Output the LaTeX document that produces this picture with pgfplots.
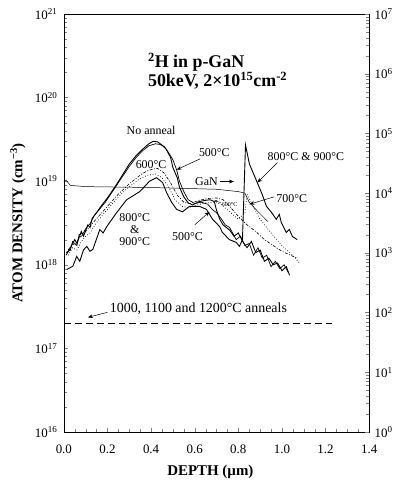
\documentclass[border=0pt]{standalone}
\usepackage{fontspec}
\setmainfont{Liberation Serif}
\usepackage{pgfplots}
\pgfplotsset{compat=1.18}
\usetikzlibrary{arrows.meta}

\pgfplotstableread{
x y
0.01 1.3e18
0.03 1.6e18
0.05 2.0e18
0.06 1.8e18
0.08 2.5e18
0.09 2.2e18
0.11 3.0e18
0.12 2.8e18
0.13 3.6e18
0.15 4.2e18
0.17 5.0e18
0.20 6.3e18
0.24 9.0e18
0.27 1.2e19
0.30 1.6e19
0.33 2.0e19
0.36 2.4e19
0.39 2.8e19
0.41 3.0e19
0.43 2.95e19
0.45 2.7e19
0.47 2.4e19
0.49 1.9e19
0.50 1.45e19
0.52 1.1e19
0.53 8.5e18
0.55 6.5e18
0.57 5.5e18
0.59 5.2e18
0.62 5.7e18
0.65 5.9e18
0.67 6.0e18
0.69 5.7e18
0.70 4.5e18
0.715 3.5e18
0.73 3.0e18
0.76 2.6e18
0.78 2.2e18
0.80 2.4e18
0.82 1.9e18
0.84 1.6e18
0.86 1.9e18
0.88 1.4e18
0.90 1.5e18
0.92 1.1e18
0.94 1.2e18
0.96 1.0e18
0.98 1.05e18
1.00 8.5e17
1.02 9.5e17
1.035 7.5e17
}\noanneal

\pgfplotstableread{
x y
0.01 1.4e18
0.03 1.5e18
0.04 1.9e18
0.06 1.7e18
0.07 2.3e18
0.09 2.4e18
0.10 2.7e18
0.12 3.1e18
0.14 3.9e18
0.16 4.5e18
0.19 5.6e18
0.23 8.0e18
0.27 1.15e19
0.30 1.5e19
0.33 1.9e19
0.36 2.3e19
0.39 2.65e19
0.42 2.8e19
0.44 2.75e19
0.46 2.6e19
0.48 2.2e19
0.50 1.8e19
0.517 1.37e19
0.53 1.0e19
0.55 7.5e18
0.57 6.0e18
0.60 5.4e18
0.63 5.6e18
0.66 5.3e18
0.68 4.6e18
0.70 4.2e18
0.72 3.6e18
0.74 3.0e18
0.76 2.8e18
0.79 2.0e18
0.81 2.2e18
0.83 1.7e18
0.85 1.8e18
0.87 1.3e18
0.89 1.6e18
0.91 1.2e18
0.93 1.3e18
0.95 0.95e18
0.97 1.1e18
0.99 0.9e18
1.01 1.0e18
1.03 0.8e18
}\fivehundred

\pgfplotstableread{
x y
0.02 1.5e18
0.04 1.8e18
0.05 1.7e18
0.07 2.1e18
0.09 2.3e18
0.10 2.5e18
0.13 3.1e18
0.16 3.8e18
0.20 5.0e18
0.25 7.0e18
0.30 9.3e18
0.35 1.18e19
0.38 1.32e19
0.41 1.4e19
0.43 1.42e19
0.46 1.25e19
0.49 9.5e18
0.52 6.8e18
0.55 5.6e18
0.58 5.4e18
0.62 5.9e18
0.66 6.2e18
0.70 6.3e18
0.73 6.0e18
0.76 5.0e18
0.80 3.8e18
0.84 3.0e18
0.88 2.5e18
0.92 2.0e18
0.96 1.7e18
1.00 1.45e18
1.04 1.3e18
1.07 1.2e18
}\sixhundred

\pgfplotstableread{
x y
0.02 1.3e18
0.04 1.6e18
0.06 1.5e18
0.08 1.9e18
0.10 2.2e18
0.12 2.4e18
0.15 3.2e18
0.19 4.3e18
0.24 6.1e18
0.29 8.2e18
0.34 1.03e19
0.38 1.17e19
0.42 1.22e19
0.45 1.1e19
0.48 8.5e18
0.51 6.0e18
0.54 5.0e18
0.57 4.8e18
0.61 5.2e18
0.65 5.5e18
0.69 5.6e18
0.72 5.3e18
0.76 4.3e18
0.80 3.5e18
0.83 4.2e18
0.84 7.0e18
0.86 5.5e18
0.90 3.5e18
0.95 2.4e18
1.00 1.7e18
1.05 1.3e18
1.08 1.05e18
}\sevenhundred

\pgfplotstableread{
x y
0.014 8.8e17
0.041 9.6e17
0.059 1.26e18
0.073 1.1e18
0.09 1.5e18
0.105 1.66e18
0.12 1.45e18
0.133 1.53e18
0.165 2.64e18
0.18 2.4e18
0.197 2.87e18
0.242 4.2e18
0.288 6.0e18
0.348 7.5e18
0.393 1.0e19
0.425 1.1e19
0.453 9.6e18
0.471 7.3e18
0.494 5.6e18
0.517 4.6e18
0.544 4.3e18
0.576 5.0e18
0.622 5.0e18
0.654 4.6e18
0.682 3.5e18
0.714 2.87e18
0.727 2.44e18
0.759 2.0e18
0.791 1.85e18
0.805 1.66e18
0.819 2.0e18
0.833 2.7e19
0.851 1.6e19
0.887 9.6e18
0.910 6.9e18
0.929 5.0e18
0.95 4.3e18
0.974 3.5e18
0.988 4.0e18
0.997 3.2e18
1.020 2.44e18
1.034 2.64e18
1.048 2.18e18
1.070 2.0e18
}\eightnine

\pgfplotstableread{
x y
0.0 9.9e18
0.01 1.03e19
0.03 8.9e18
0.10 8.6e18
0.40 8.4e18
0.70 8.0e18
0.80 7.5e18
0.83 7.2e18
0.85 5.6e18
0.88 4.6e18
0.935 3.3e18
}\gan

\begin{document}
\begin{tikzpicture}
\begin{axis}[
  scale only axis, width=306bp, height=419bp,
  xmin=0, xmax=1.4, ymode=log, ymin=1e16, ymax=1e21,
  xtick={0,0.2,0.4,0.6,0.8,1.0,1.2,1.4},
  xticklabels={0.0,0.2,0.4,0.6,0.8,1.0,1.2,1.4},
  minor x tick num=3,
  ytick={1e16,1e17,1e18,1e19,1e20,1e21},
  yticklabels={10\textsuperscript{16},10\textsuperscript{17},10\textsuperscript{18},10\textsuperscript{19},10\textsuperscript{20},10\textsuperscript{21}},
  xtick pos=bottom, ytick pos=left, tick align=inside,
  tick label style={font=\fontsize{13}{15}\selectfont},
  xticklabel style={yshift=-9bp},
  yticklabel style={xshift=-3bp},
  xlabel={DEPTH (µm)},
  ylabel={ATOM DENSITY (cm\textsuperscript{−3})},
  label style={font=\fontsize{15}{17}\selectfont\bfseries},
  xlabel style={at={([yshift=-40bp]axis description cs:0.48,0)},anchor=center},
  ylabel style={at={([xshift=-46bp]axis description cs:0,0.5)},anchor=center},
]
\addplot[black, line width=0.9pt] table {\noanneal};
\addplot[black, line width=0.7pt] table {\fivehundred};
\addplot[black, line width=0.6pt, dash pattern=on 3pt off 1.5pt on 1pt off 1.5pt] table {\sixhundred};
\addplot[black, line width=0.7pt, dotted] table {\sevenhundred};
\addplot[black, line width=0.9pt] table {\eightnine};
\addplot[black, line width=0.5pt] table {\gan};
\addplot[black, line width=0.6pt, dash pattern=on 7pt off 4pt] coordinates {(0,2e17) (1.23,2e17)};

\node[anchor=west, font=\fontsize{18}{20}\selectfont\bfseries] at (axis cs:0.37,2.67e20) {\textsuperscript{2}H in p-GaN};
\node[anchor=west, font=\fontsize{18}{20}\selectfont\bfseries] at (axis cs:0.37,1.58e20) {50keV, 2×10\textsuperscript{15}cm\textsuperscript{-2}};

\node[font=\fontsize{12}{14}\selectfont] at (axis cs:0.40,4.1e19) {No anneal};
\node[font=\fontsize{12}{14}\selectfont] at (axis cs:0.69,2.2e19) {500°C};
\draw[-{Stealth[length=5pt]}, line width=0.5pt] (axis cs:0.625,1.85e19) -- (axis cs:0.517,1.37e19);
\node[font=\fontsize{12}{14}\selectfont] at (axis cs:0.40,1.58e19) {600°C};
\node[font=\fontsize{12}{14}\selectfont] at (axis cs:0.654,9.9e18) {GaN};
\draw[-{Stealth[length=5pt]}, line width=0.5pt] (axis cs:0.715,9.9e18) -- (axis cs:0.78,9.9e18);
\node[font=\fontsize{12}{14}\selectfont] at (axis cs:1.11,1.97e19) {800°C \& 900°C};
\draw[-{Stealth[length=5pt]}, line width=0.5pt] (axis cs:0.979,1.67e19) -- (axis cs:0.887,9.6e18);
\node[font=\fontsize{12}{14}\selectfont] at (axis cs:1.045,6.2e18) {700°C};
\draw[-{Stealth[length=5pt]}, line width=0.5pt] (axis cs:0.965,6.5e18) -- (axis cs:0.851,5.3e18);
\node[font=\fontsize{12}{14}\selectfont, align=center] at (axis cs:0.325,2.64e18) {800°C\\[-2pt]\&\\[-2pt]900°C};
\node[font=\fontsize{12}{14}\selectfont] at (axis cs:0.567,2.18e18) {500°C};
\draw[-{Stealth[length=5pt]}, line width=0.5pt] (axis cs:0.60,3.0e18) -- (axis cs:0.668,4.3e18);
\node[font=\fontsize{6}{7}\selectfont] at (axis cs:0.76,5.3e18) {600°C};
\draw[-{Stealth[length=3pt]}, line width=0.4pt] (axis cs:0.72,5.5e18) -- (axis cs:0.69,5.9e18);
\node[font=\fontsize{14}{16}\selectfont] at (axis cs:0.617,3.0e17) {1000, 1100 and 1200°C anneals};
\draw[-{Stealth[length=5pt]}, line width=0.5pt] (axis cs:0.20,2.7e17) -- (axis cs:0.11,2.35e17);
\end{axis}
\begin{axis}[
  scale only axis, width=306bp, height=419bp,
  xmin=0, xmax=1.4, ymode=log, ymin=1, ymax=1e7,
  axis y line*=right, axis x line=none, tick align=inside,
  ytick={1,10,100,1000,10000,100000,1000000,10000000},
  yticklabels={10\textsuperscript{0},10\textsuperscript{1},10\textsuperscript{2},10\textsuperscript{3},10\textsuperscript{4},10\textsuperscript{5},10\textsuperscript{6},10\textsuperscript{7}},
  tick label style={font=\fontsize{13}{15}\selectfont},
  yticklabel style={xshift=2bp},
]
\addplot[draw=none] coordinates {(0,1) (1.4,1e7)};
\end{axis}
\path (current axis.south west) ++(-64bp,-49bp) rectangle ([shift={(28bp,14bp)}]current axis.north east);
\end{tikzpicture}
\end{document}
